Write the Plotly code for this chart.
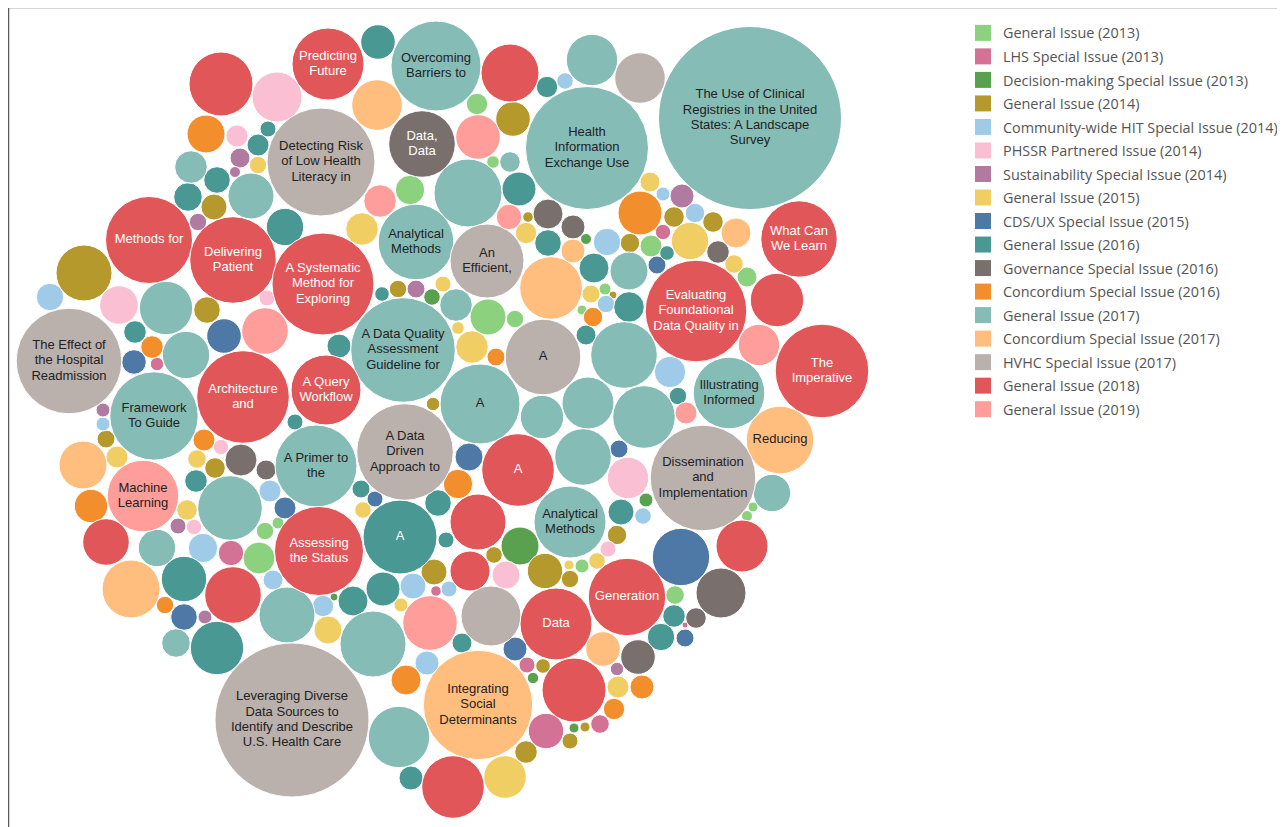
import plotly.graph_objects as go

# ---------------- data ----------------
categories = [
    "General Issue (2013)", "LHS Special Issue (2013)", "Decision-making Special Issue (2013)",
    "General Issue (2014)", "Community-wide HIT Special Issue (2014)", "PHSSR Partnered Issue (2014)",
    "Sustainability Special Issue (2014)", "General Issue (2015)", "CDS/UX Special Issue (2015)",
    "General Issue (2016)", "Governance Special Issue (2016)", "Concordium Special Issue (2016)",
    "General Issue (2017)", "Concordium Special Issue (2017)", "HVHC Special Issue (2017)",
    "General Issue (2018)", "General Issue (2019)",
]
category_colors = [
    "#8CD17D", "#D37295", "#59A14F", "#B6992D", "#A0CBE8", "#FABFD2", "#B07AA1", "#F1CE63",
    "#4E79A7", "#499894", "#79706E", "#F28E2B", "#86BCB6", "#FFBE7D", "#BAB0AC", "#E15759", "#FF9D9A",
]

# bubble radius -> value is area-like
bubble_r = [
    32, 25, 19, 11, 8, 11, 10, 8.7, 5.5, 16.3, 13.3, 23, 14.3, 13, 8.7, 18.7, 54, 43.5, 43.3, 28,
    36, 17.3, 45, 29, 25.3, 33.3, 10.7, 17.3, 22.3, 6.3, 10.3, 34, 17, 10.7, 8.3, 25.7, 61.5, 25.3, 91.5, 14.7,
    16.3, 16.3, 37.8, 37, 12.7, 5.3, 10.7, 15, 12, 13.3, 12, 5.5, 31.3, 51, 10, 7, 12, 22, 9.7, 10.3,
    10.3, 15, 7.7, 18.7, 9.7, 11, 13.7, 7.3, 9, 11.3, 9.3, 10, 38.2, 15, 19, 50.8, 26.7, 20.7, 46.8, 35.8,
    33.8, 52.8, 18.7, 5, 5.5, 26, 28.7, 33.3, 15.7, 8.7, 11, 31.3, 26, 15.3, 9, 6, 4, 8.7, 9.7, 5,
    10, 9, 20.7, 7, 13, 8.3, 9.7, 28.3, 36, 13.7, 19.3, 26.7, 13.3, 8, 23.3, 17.3, 52.8, 11.3, 11.3, 12.3,
    6.7, 23.7, 46.3, 44.2, 7, 7, 9, 11, 24, 35.8, 16.7, 23.3, 11, 7.7, 9.3, 10.3, 16, 10, 11.3, 32.3,
    11, 11, 10.3, 8, 7.7, 8.7, 6, 18.7, 14.7, 12.7, 16, 10, 29, 22.7, 28.3, 8.7, 13.3, 7, 14.3, 26.7,
    28, 77, 41, 44.5, 37, 7.3, 8.7, 9, 8.3, 8, 16.3, 18, 8.7, 6.3, 16.3, 9, 37.8, 52.3, 12, 35,
    40, 6.7, 21.7, 8, 48.3, 14, 36.3, 14.7, 13.3, 28, 9, 8, 8.3, 8, 19, 8.3, 20, 14, 17.7, 5,
    7, 8.7, 13, 8, 5.3, 13, 17, 15, 4, 10.7, 7, 14, 33, 27.3, 30, 10, 12, 15, 36, 12,
    8, 7.3, 5.7, 54.7, 30.7, 12, 31.3, 21.3, 11.3, 17.7, 32, 5, 8, 5, 38.7, 9.3, 25, 11.3, 10.3, 13.7,
    3, 9, 17.3, 17.3, 6.7, 11, 12, 10.7, 9.3, 8.3, 8,
]
bubble_x = [
    221, 277, 206, 237, 268, 258, 240, 258, 235, 191, 217, 251, 188, 214, 198, 285, 321, 149, 233, 84,
    328, 378, 436, 510, 377, 422, 477, 513, 478, 493, 510, 468, 519, 547, 565, 592, 587, 640, 750, 410,
    380, 362, 416, 487, 509, 528, 526, 548, 573, 548, 573, 586, 551, 323, 650, 663, 682, 640, 695, 674,
    713, 736, 663, 690, 630, 651, 607, 667, 657, 718, 734, 747, 799, 594, 629, 696, 777, 759, 822, 729,
    780, 703, 772, 753, 747, 742, 681, 624, 670, 678, 686, 644, 588, 629, 591, 605, 613, 606, 593, 582,
    586, 619, 628, 646, 621, 643, 617, 583, 570, 50, 119, 166, 207, 267, 265, 224, 69, 135, 152, 134,
    157, 186, 243, 154, 103, 103, 106, 117, 83, 143, 91, 106, 204, 221, 197, 215, 241, 266, 196, 230,
    270, 285, 187, 178, 194, 265, 278, 157, 203, 231, 259, 273, 131, 184, 233, 165, 184, 205, 176, 217,
    287, 292, 316, 319, 400, 382, 398, 416, 432, 443, 456, 488, 515, 458, 472, 496, 543, 403, 339, 326,
    480, 433, 542, 295, 405, 469, 518, 458, 438, 478, 361, 375, 363, 446, 520, 494, 470, 506, 545, 569,
    582, 570, 434, 449, 436, 413, 383, 353, 334, 323, 401, 328, 373, 430, 491, 462, 427, 406, 556, 515,
    527, 543, 533, 478, 399, 411, 453, 505, 526, 546, 574, 574, 570, 585, 627, 675, 721, 674, 696, 661,
    685, 685, 603, 638, 617, 618, 642, 614, 600, 597, 608,
]
bubble_y = [
    84, 97, 134, 136, 129, 145, 158, 165, 172, 167, 180, 196, 197, 207, 222, 227, 162, 240, 260, 273,
    64, 42, 66, 73, 105, 144, 104, 119, 137, 162, 162, 193, 189, 87, 81, 60, 148, 78, 118, 190,
    201, 229, 242, 261, 217, 217, 233, 214, 227, 243, 251, 239, 288, 284, 182, 194, 196, 213, 213, 217,
    222, 233, 232, 241, 243, 246, 242, 253, 265, 252, 264, 277, 239, 268, 271, 311, 300, 345, 371, 393,
    440, 478, 493, 507, 516, 546, 557, 355, 372, 396, 413, 417, 403, 307, 294, 289, 295, 304, 317, 310,
    335, 449, 478, 500, 512, 516, 535, 457, 522, 297, 305, 308, 310, 298, 331, 336, 361, 332, 347, 362,
    364, 355, 397, 416, 410, 424, 439, 457, 465, 496, 506, 542, 440, 447, 459, 468, 460, 470, 481, 508,
    491, 508, 510, 526, 527, 531, 523, 548, 548, 553, 558, 580, 589, 579, 595, 605, 617, 617, 643, 648,
    615, 720, 466, 551, 537, 294, 289, 289, 297, 284, 305, 317, 319, 328, 347, 357, 357, 350, 346, 390,
    404, 404, 417, 422, 452, 457, 470, 484, 503, 522, 489, 499, 510, 540, 546, 555, 571, 575, 571, 565,
    566, 579, 572, 589, 591, 586, 589, 601, 597, 606, 605, 630, 644, 623, 616, 643, 663, 680, 624, 649,
    665, 666, 678, 705, 737, 778, 787, 777, 752, 731, 690, 728, 741, 727, 597, 595, 593, 616, 618, 637,
    625, 638, 649, 657, 669, 687, 687, 709, 724, 561, 549,
]
bubble_group = [
    15, 5, 11, 5, 9, 9, 6, 7, 6, 12, 9, 12, 9, 3, 6, 9, 14, 15, 15, 3,
    15, 9, 12, 15, 13, 10, 0, 3, 16, 0, 12, 12, 9, 9, 4, 12, 12, 14, 12, 0,
    16, 7, 12, 14, 16, 3, 7, 10, 10, 9, 13, 2, 13, 15, 7, 4, 6, 11, 4, 3,
    3, 13, 1, 7, 3, 0, 4, 9, 8, 10, 7, 0, 15, 9, 12, 15, 15, 16, 15, 12,
    13, 14, 12, 0, 0, 15, 8, 12, 4, 9, 16, 12, 12, 9, 7, 0, 3, 4, 11, 0,
    9, 8, 5, 2, 9, 4, 3, 12, 12, 4, 5, 12, 3, 5, 16, 8, 14, 9, 11, 8,
    1, 12, 15, 12, 6, 4, 3, 7, 13, 16, 11, 15, 11, 5, 7, 3, 10, 10, 9, 12,
    4, 8, 7, 6, 5, 0, 0, 12, 4, 1, 0, 4, 13, 9, 15, 11, 8, 6, 12, 9,
    12, 14, 12, 15, 9, 9, 3, 6, 2, 7, 12, 0, 0, 7, 7, 11, 14, 12, 9, 15,
    12, 3, 12, 9, 14, 8, 15, 11, 9, 15, 9, 8, 7, 9, 2, 3, 15, 5, 3, 7,
    0, 3, 3, 4, 1, 4, 9, 9, 2, 4, 7, 7, 12, 16, 14, 9, 4, 11, 15, 8,
    1, 3, 2, 13, 12, 9, 15, 7, 3, 1, 15, 2, 3, 3, 15, 0, 10, 9, 10, 9,
    1, 8, 13, 10, 6, 7, 11, 11, 1, 7, 5,
]
bubble_label = [""] * len(bubble_r)
label_text = {
    16: "Detecting Risk<br>of Low Health<br>Literacy in",
    17: "Methods for",
    18: "Delivering<br>Patient",
    20: "Predicting<br>Future",
    22: "Overcoming<br>Barriers to",
    25: "Data,<br>Data",
    36: "Health<br>Information<br>Exchange Use",
    38: "The Use of Clinical<br>Registries in the United<br>States: A Landscape<br>Survey",
    42: "Analytical<br>Methods",
    43: "An<br>Efficient,",
    53: "A Systematic<br>Method for<br>Exploring",
    72: "What Can<br>We Learn",
    75: "Evaluating<br>Foundational<br>Data Quality in",
    78: "The<br>Imperative",
    79: "Illustrating<br>Informed",
    80: "Reducing",
    81: "Dissemination<br>and<br>Implementation",
    108: "Analytical<br>Methods",
    116: "The Effect of<br>the Hospital<br>Readmission",
    122: "Architecture<br>and",
    123: "Framework<br>To Guide",
    129: "Machine<br>Learning",
    161: "Leveraging Diverse<br>Data Sources to<br>Identify and Describe<br>U.S. Health Care",
    162: "A Primer to<br>the",
    163: "Assessing<br>the Status",
    164: "A",
    176: "A",
    177: "A Data Quality<br>Assessment<br>Guideline for",
    179: "A Query<br>Workflow",
    180: "A",
    184: "A Data<br>Driven<br>Approach to",
    186: "A",
    218: "Data",
    223: "Integrating<br>Social<br>Determinants",
    234: "Generation",
}
for k, v in label_text.items():
    bubble_label[k] = v

bubble_value = [round(r * r, 1) for r in bubble_r]

# ---------------- figure ----------------
W, H, OFF = 1277, 819, 8   # page body margin is 8px
LINE_GAP = 15.3            # label line spacing in axis units (1 unit = 1 px)
fig = go.Figure()
light_text_groups = {9, 10, 15}

for gi, name in enumerate(categories):
    idx = [i for i, g in enumerate(bubble_group) if g == gi]
    fig.add_trace(go.Scatter(
        x=[bubble_x[i] for i in idx],
        y=[bubble_y[i] for i in idx],
        mode="markers",
        marker=dict(size=[bubble_value[i] for i in idx], sizemode="area", sizeref=0.5,
                    color=category_colors[gi], opacity=1,
                    line=dict(color="white", width=1)),
        showlegend=False, hoverinfo="skip",
    ))

# labels: one text point per line, stacked around the bubble centre
tx, ty, tt, tc = [], [], [], []
for i, lab in enumerate(bubble_label):
    if not lab:
        continue
    lines = lab.split("<br>")
    n = len(lines)
    for k, line in enumerate(lines):
        tx.append(bubble_x[i])
        ty.append(bubble_y[i] + (k - (n - 1) / 2) * LINE_GAP)
        tt.append(line)
        tc.append("white" if bubble_group[i] in light_text_groups else "#222222")

fig.add_trace(go.Scatter(
    x=tx, y=ty, mode="text", text=tt, textposition="middle center",
    textfont=dict(family="Arial, Liberation Sans, sans-serif", size=13, color=tc),
    showlegend=False, hoverinfo="skip",
))

for gi, name in enumerate(categories):
    fig.add_trace(go.Scatter(
        x=[None], y=[None], mode="markers", name=name, legendgroup=name,
        marker=dict(symbol="square", size=16, color=category_colors[gi]),
        showlegend=True,
    ))

fig.add_shape(type="rect", xref="x", yref="y", x0=8.5, y0=7.5, x1=1281, y1=840,
              line=dict(color="#5a5a5a", width=1.5), fillcolor="rgba(0,0,0,0)", layer="below")

fig.update_layout(
    width=W, height=H, autosize=False,
    margin=dict(l=0, r=0, t=0, b=0, pad=0),
    paper_bgcolor="white", plot_bgcolor="white",
    xaxis=dict(range=[OFF, OFF + W], visible=False, fixedrange=True),
    yaxis=dict(range=[OFF + H, OFF], visible=False, fixedrange=True),
    showlegend=True,
    legend=dict(x=(963 - OFF) / W, y=1 - (17 - OFF) / H, xanchor="left", yanchor="top",
                bgcolor="rgba(0,0,0,0)", tracegroupgap=1.8,
                font=dict(family="Open Sans, sans-serif", size=14.4, color="#555555")),
)

fig.write_html("out.html")
